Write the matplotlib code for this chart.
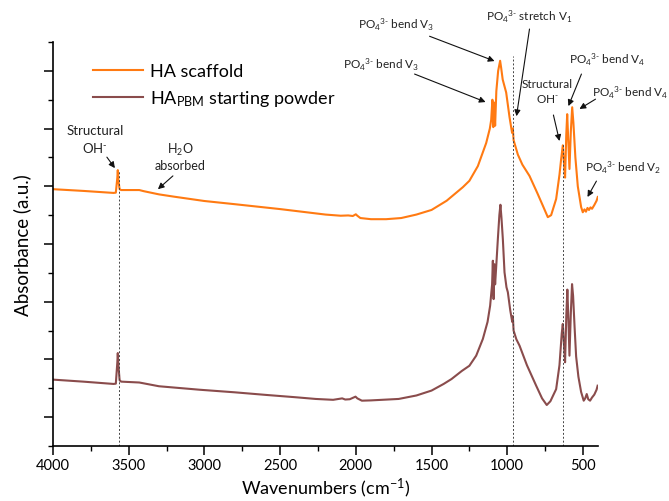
import matplotlib
matplotlib.use("Agg")
import matplotlib.pyplot as plt
from matplotlib.ticker import MultipleLocator, FixedLocator, NullFormatter

plt.rcParams['font.family'] = ['Lato', 'DejaVu Sans']
plt.rcParams['mathtext.fontset'] = 'custom'
plt.rcParams['mathtext.rm'] = 'Lato'
plt.rcParams['mathtext.it'] = 'Lato:italic'
plt.rcParams['mathtext.bf'] = 'Lato:bold'

# HA scaffold spectrum (wavenumber, absorbance offset units)
wn_scaffold = [4000, 3800, 3600, 3585, 3575, 3572, 3568, 3560, 3550, 3430, 3400, 3300,
               3200, 3000, 2800, 2500, 2200, 2100, 2050, 2020, 2000, 1990, 1970, 1900,
               1800, 1700, 1600, 1500, 1400, 1293, 1250, 1194, 1139, 1115, 1106, 1098,
               1092, 1086, 1080, 1072, 1060, 1047, 1040, 1030, 1007, 985, 968, 963, 958,
               930, 900, 853, 800, 765, 732, 710, 677, 655, 644, 633, 625, 618, 610, 604,
               597, 589, 580, 571, 563, 550, 534, 512, 501, 490, 480, 470, 460, 450, 440,
               425, 410, 402]
abs_scaffold = [8.90, 8.84, 8.77, 8.78, 9.30, 9.56, 9.20, 8.90, 8.87, 8.87, 8.83, 8.72,
                8.64, 8.49, 8.38, 8.21, 8.02, 7.98, 7.99, 7.97, 8.03, 7.98, 7.90, 7.86,
                7.86, 7.90, 8.02, 8.18, 8.50, 8.97, 9.19, 9.70, 10.5, 11.0, 11.3, 12.0,
                11.05, 11.9, 11.1, 12.3, 13.0, 13.35, 13.1, 12.7, 12.25, 11.4, 10.85, 11.0, 10.6,
                10.1, 9.75, 9.36, 8.75, 8.33, 7.93, 8.0, 8.56, 9.4, 9.94, 10.42, 9.8, 9.3, 10.8, 11.5,
                10.6, 9.6, 10.9, 11.74, 11.2, 10.0, 9.0, 8.28, 8.1, 8.2, 8.12, 8.25, 8.18, 8.27, 8.22,
                8.35, 8.5, 8.63]

# HA PBM starting powder spectrum
wn_powder = [4000, 3800, 3600, 3585, 3575, 3572, 3568, 3560, 3550, 3430, 3400, 3300,
             3033, 2800, 2594, 2400, 2265, 2150, 2090, 2070, 2040, 2002, 1990, 1960, 1900,
             1717, 1600, 1500, 1420, 1368, 1300, 1250, 1205, 1161, 1130, 1113, 1100, 1095,
             1090, 1085, 1080, 1073, 1062, 1052, 1045, 1038, 1029, 1018, 1005, 996, 980, 967,
             963, 958, 940, 919, 870, 809, 770, 739, 715, 677, 655, 640, 633, 625, 618, 610,
             603, 596, 589, 580, 572, 565, 555, 545, 530, 512, 495, 485, 475, 465, 453, 440,
             425, 410, 403]
abs_powder = [2.30, 2.23, 2.15, 2.16, 2.9, 3.22, 2.8, 2.28, 2.23, 2.20, 2.17, 2.07,
              1.95, 1.86, 1.77, 1.69, 1.63, 1.60, 1.65, 1.61, 1.62, 1.71, 1.65, 1.57, 1.58,
              1.63, 1.75, 1.92, 2.15, 2.32, 2.6, 2.78, 3.13, 3.71, 4.3, 4.86, 5.6, 6.42,
              5.09, 6.30, 5.6, 6.2, 7.17, 8.0, 8.36, 7.9, 7.17, 6.02, 5.5, 5.33, 4.7, 4.3,
              4.5, 4.0, 3.7, 3.48, 2.8, 2.09, 1.65, 1.42, 1.55, 1.97, 2.8, 3.9, 4.23, 3.5, 2.9, 4.5,
              5.42, 4.4, 3.13, 4.6, 5.61, 5.2, 4.1, 3.1, 2.4, 1.87, 1.57, 1.65, 1.80, 1.62, 1.57, 1.68,
              1.78, 1.95, 2.09]

# reference lines (wavenumber, top of line)
ref_wn = [3565, 963, 630]
ref_top = [9.53, 13.5, 10.46]

labels = ["HA scaffold", "HA$_{\\mathrm{PBM}}$ starting powder"]

PO4 = "PO$_4$$^{3\\text{-}}$"

fig = plt.figure(figsize=(6.69, 5.02), dpi=100)
ax = fig.add_axes([0.0792, 0.1096, 0.8148, 0.8047])

ax.plot(wn_scaffold, abs_scaffold, color='#FF7A12', lw=1.5, label=labels[0])
ax.plot(wn_powder, abs_powder, color='#8A4C4C', lw=1.5, label=labels[1])

for w, t in zip(ref_wn, ref_top):
    ax.plot([w, w], [0, t], color='#444444', lw=0.7, ls=(0, (2, 2)))

ax.set_xlim(4000, 400)
ax.set_ylim(0, 14)
ax.xaxis.set_major_locator(MultipleLocator(500))
ax.xaxis.set_minor_locator(MultipleLocator(250))
ax.yaxis.set_major_locator(FixedLocator([1, 3, 5, 7, 9, 11, 13]))
ax.yaxis.set_minor_locator(FixedLocator([0, 2, 4, 6, 8, 10, 12, 14]))
ax.yaxis.set_major_formatter(NullFormatter())
for s in ['top', 'right']:
    ax.spines[s].set_visible(False)
for s in ['left', 'bottom']:
    ax.spines[s].set_linewidth(1.2)
ax.tick_params(which='major', length=6.5, width=1.1, labelsize=10.5, direction='out', pad=2.5)
ax.tick_params(which='minor', length=3.5, width=1.0, direction='out')

ax.set_xlabel("Wavenumbers (cm$^{-1}$)", fontsize=13, labelpad=2)
ax.set_ylabel("Absorbance (a.u.)", fontsize=13.5, labelpad=7)

ax.legend(loc='upper left', bbox_to_anchor=(0.06, 0.965), frameon=False, fontsize=13,
          handlelength=2.8, handletextpad=0.35, labelspacing=0.5, borderaxespad=0)

# annotations: text
ann_kw = dict(fontsize=8.5, color='#222222')
ax.text(3723, 10.64, "Structural\nOH$^{\\text{-}}$", ha='center', va='center', fontsize=9.5,
        linespacing=1.3, color='#222222')
ax.text(3162, 10.05, "H$_2$O\nabsorbed", ha='center', va='center', fontsize=9,
        linespacing=1.2, color='#222222')
ax.text(1988, 14.62, PO4 + " bend V$_3$", ha='left', va='center', clip_on=False, **ann_kw)
ax.text(2087, 13.24, PO4 + " bend V$_3$", ha='left', va='center', **ann_kw)
ax.text(1137, 14.9, PO4 + " stretch V$_1$", ha='left', va='center', clip_on=False, **ann_kw)
ax.text(734, 12.3, "Structural\nOH$^{\\text{-}}$", ha='center', va='center', linespacing=1.3, **ann_kw)
ax.text(589, 13.41, PO4 + " bend V$_4$", ha='left', va='center', clip_on=False, **ann_kw)
ax.text(0.999, 0.815, PO4 + " bend V$_4$", ha='right', va='center', transform=fig.transFigure,
        **ann_kw)
ax.text(484, 9.67, PO4 + " bend V$_2$", ha='left', va='center', clip_on=False, **ann_kw)

# annotations: arrows (head, tail)
arrows = [((3591, 9.63), (3644, 10.01)),
          ((3307, 8.90), (3208, 9.36)),
          ((1084, 13.34), (1513, 14.2)),
          ((1143, 11.92), (1612, 12.89)),
          ((939, 11.43), (853, 14.45)),
          ((655, 10.57), (695, 11.47)),
          ((596, 11.78), (510, 12.89)),
          ((523, 11.68), (417, 12.02)),
          ((470, 8.63), (411, 9.18))]
for head, tail in arrows:
    ax.annotate('', xy=head, xytext=tail, annotation_clip=False,
                arrowprops=dict(arrowstyle='-|>', color='#111111', lw=0.8,
                                mutation_scale=9, shrinkA=0, shrinkB=0))

fig.savefig('out.png', dpi=100)
